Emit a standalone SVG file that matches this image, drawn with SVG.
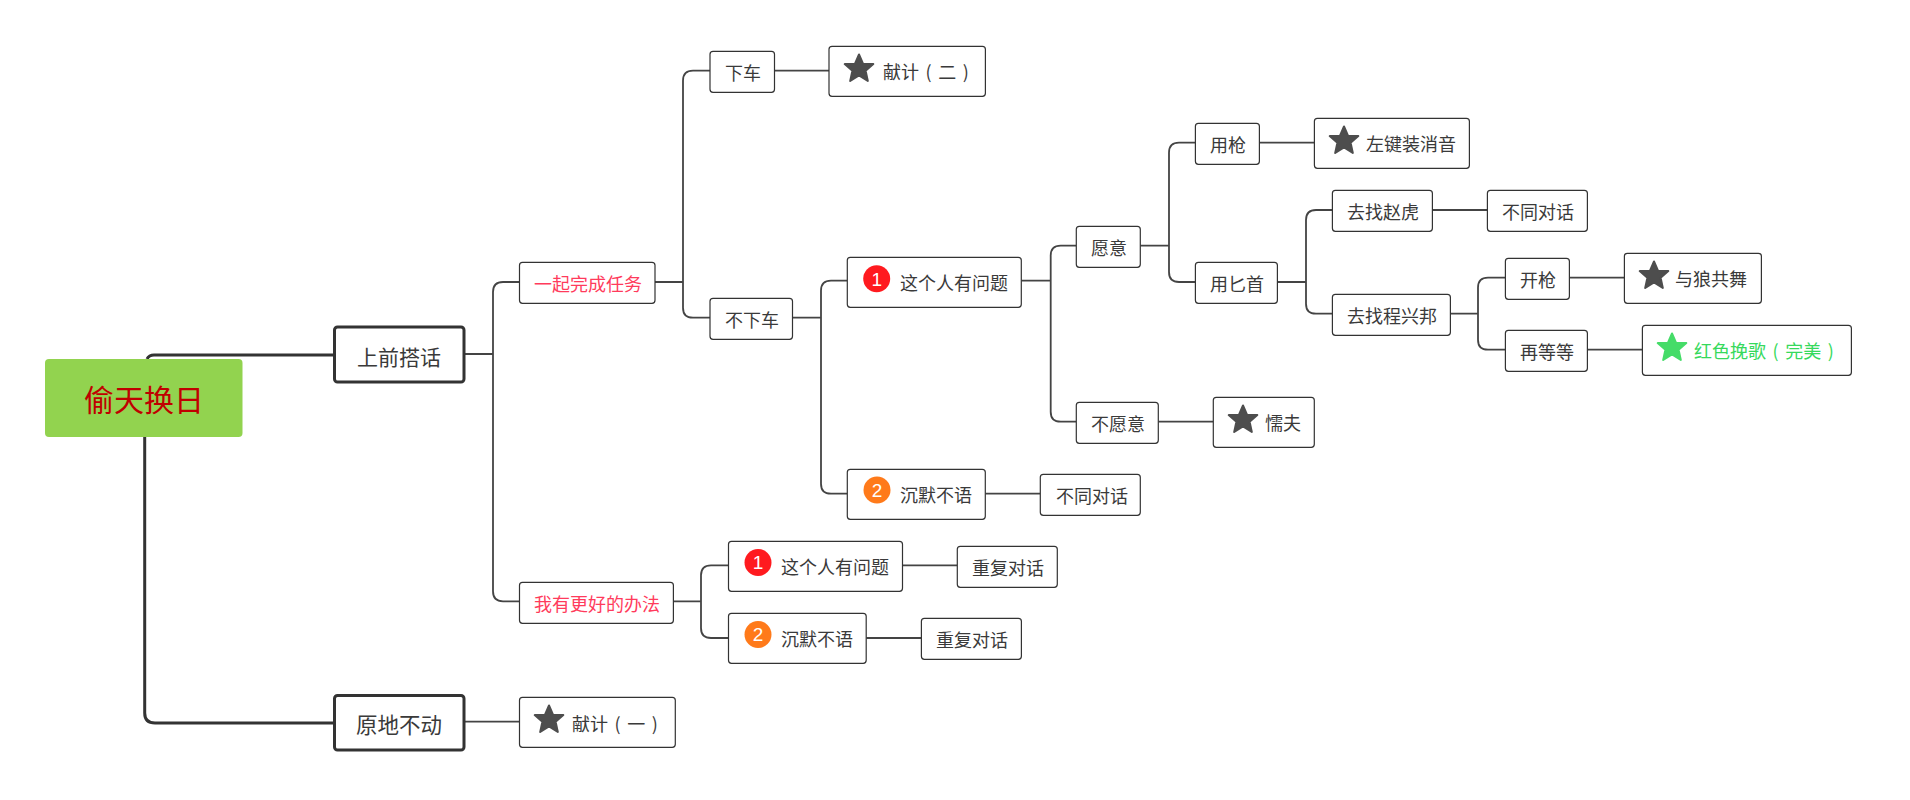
<svg xmlns="http://www.w3.org/2000/svg" xmlns:xlink="http://www.w3.org/1999/xlink" width="1910" height="800" viewBox="0 0 1910 800">
<style>
text{font-family:"Noto Sans CJK SC","Noto Sans",sans-serif;font-size:18px;fill:#3a3a3a;word-spacing:2.500px}
.b{fill:#fff;stroke:#333;stroke-width:1.2}
.m{fill:#fff;stroke:#333;stroke-width:3}
.c{fill:none;stroke:#444;stroke-width:1.8}
.c3{fill:none;stroke:#333;stroke-width:3}
.r{fill:#ff3b5c}
.g{fill:#36d95c}
.n{font-family:"Liberation Sans",sans-serif;fill:#fff;font-size:19px;text-anchor:middle}
.s{fill:#4d4d4d;stroke:#4d4d4d;stroke-width:2;stroke-linejoin:round}
</style>
<defs><polygon id="star" points="0,-14 4.1,-4.6 14.3,-4.4 6.6,2.2 8.8,12.4 0,7 -8.8,12.4 -6.6,2.2 -14.3,-4.4 -4.1,-4.6"/></defs>
<g id="connectors">
<path class="c3" d="M147 359Q149 355 154 355H334M144.700 437V713Q144.700 723 155 723H334"/>
<path class="c" d="M464.700 354H493M519.500 282H503Q493 282 493 292V591.300Q493 601.300 503 601.300H519.500"/>
<path class="c" d="M655 282H683M710 70.700H693Q683 70.700 683 80.700V307.700Q683 317.700 693 317.700H710M774.500 70.700H829"/>
<path class="c" d="M792.500 317.700H821M847.300 280.700H831Q821 280.700 821 290.700V483.700Q821 493.700 831 493.700H847.300M985.300 493.700H1040.300"/>
<path class="c" d="M1021.300 280.700H1050.700M1076.300 245.700H1060.700Q1050.700 245.700 1050.700 255.700V411.700Q1050.700 421.700 1060.700 421.700H1076.300M1158.300 421.700H1213.300"/>
<path class="c" d="M1140.300 245.700H1169M1195.400 142.700H1179Q1169 142.700 1169 152.700V272Q1169 282 1179 282H1195.400M1259.400 142.700H1314.400"/>
<path class="c" d="M1277.300 282H1306M1332.400 210H1316Q1306 210 1306 220V303.700Q1306 313.700 1316 313.700H1332.400M1432.300 210H1487.400"/>
<path class="c" d="M1450.300 313.700H1478M1505.400 277.700H1488Q1478 277.700 1478 287.700V339.700Q1478 349.700 1488 349.700H1505.400M1569.300 277.700H1624.400M1587.300 349.700H1642.400"/>
<path class="c" d="M673.400 601.300H701M728.500 565.300H711Q701 565.300 701 575.300V628Q701 638 711 638H728.500M902.600 565.300H957.300M866.200 638H921.400"/>
<path class="c" d="M464.700 721.700H519.500"/>
</g>
<g id="root"><rect x="45" y="359" width="197.500" height="78" rx="4" fill="#92d34f"/><text x="84" y="411" style="font-size:30px;fill:#c00000">偷天换日</text></g>
<g id="n1"><rect class="m" x="334.500" y="327" width="129.500" height="55" rx="3"/><text x="357" y="365" style="font-size:21px">上前搭话</text></g>
<g id="n2"><rect class="m" x="334.500" y="695.500" width="129.500" height="54.500" rx="3"/><text x="356" y="733" style="font-size:21.500px">原地不动</text></g>
<g id="n3"><rect class="b" x="519.500" y="262.300" width="135.500" height="41" rx="3"/><text class="r" x="534" y="291">一起完成任务</text></g>
<g id="n4"><rect class="b" x="519.500" y="582.300" width="153.900" height="41" rx="3"/><text class="r" x="534" y="611">我有更好的办法</text></g>
<g id="n5"><rect class="b" x="519.500" y="697.300" width="155.800" height="50" rx="3"/><use href="#star" class="s" x="549" y="719.500"/><text x="572" y="731">献计 ( 一 )</text></g>
<g id="n6"><rect class="b" x="710" y="51.300" width="64.500" height="41" rx="3"/><text x="725" y="80">下车</text></g>
<g id="n7"><rect class="b" x="829" y="46.300" width="156.400" height="50" rx="3"/><use href="#star" class="s" x="859" y="68.500"/><text x="883" y="79">献计 ( 二 )</text></g>
<g id="n8"><rect class="b" x="710" y="298.300" width="82.500" height="41" rx="3"/><text x="725" y="327">不下车</text></g>
<g id="n9"><rect class="b" x="847.300" y="257.300" width="174" height="50" rx="3"/><circle cx="876.700" cy="278.700" r="13.500" fill="#ff1a1f"/><text class="n" x="876.700" y="285.500">1</text><text x="900" y="290">这个人有问题</text></g>
<g id="n10"><rect class="b" x="847.300" y="469.300" width="138" height="50" rx="3"/><circle cx="877" cy="490" r="13.500" fill="#ff7a1a"/><text class="n" x="877" y="497">2</text><text x="900" y="502">沉默不语</text></g>
<g id="n11"><rect class="b" x="1040.300" y="474.300" width="100" height="41" rx="3"/><text x="1056" y="503">不同对话</text></g>
<g id="n12"><rect class="b" x="1076.300" y="226.300" width="64" height="41" rx="3"/><text x="1091" y="255">愿意</text></g>
<g id="n13"><rect class="b" x="1076.300" y="402.300" width="82" height="41" rx="3"/><text x="1091" y="431">不愿意</text></g>
<g id="n14"><rect class="b" x="1213.300" y="397.300" width="101" height="50" rx="3"/><use href="#star" class="s" x="1243" y="419.500"/><text x="1265" y="430">懦夫</text></g>
<g id="n15"><rect class="b" x="1195.400" y="123.300" width="64" height="41" rx="3"/><text x="1210" y="152">用枪</text></g>
<g id="n16"><rect class="b" x="1195.400" y="262.300" width="82" height="41" rx="3"/><text x="1210" y="291">用匕首</text></g>
<g id="n17"><rect class="b" x="1314.400" y="118.300" width="155" height="50" rx="3"/><use href="#star" class="s" x="1344" y="140.500"/><text x="1366" y="150.500">左键装消音</text></g>
<g id="n18"><rect class="b" x="1332.400" y="190.300" width="100" height="41" rx="3"/><text x="1347" y="219">去找赵虎</text></g>
<g id="n19"><rect class="b" x="1487.400" y="190.300" width="100" height="41" rx="3"/><text x="1502" y="219">不同对话</text></g>
<g id="n20"><rect class="b" x="1332.400" y="294.300" width="118" height="41" rx="3"/><text x="1347" y="323">去找程兴邦</text></g>
<g id="n21"><rect class="b" x="1505.400" y="258.300" width="64" height="41" rx="3"/><text x="1520" y="287">开枪</text></g>
<g id="n22"><rect class="b" x="1624.400" y="253.300" width="137" height="50" rx="3"/><use href="#star" class="s" x="1654" y="275.500"/><text x="1675" y="285.500">与狼共舞</text></g>
<g id="n23"><rect class="b" x="1505.400" y="330.300" width="82" height="41" rx="3"/><text x="1520" y="359">再等等</text></g>
<g id="n24"><rect class="b" x="1642.400" y="325.300" width="209" height="50" rx="3"/><use href="#star" x="1672" y="347.500" style="fill:#45dc68;stroke:#45dc68;stroke-width:2;stroke-linejoin:round"/><text class="g" x="1694" y="357.500">红色挽歌 ( 完美 )</text></g>
<g id="n25"><rect class="b" x="728.500" y="541.300" width="174" height="50" rx="3"/><circle cx="758" cy="562.500" r="13.500" fill="#ff1a1f"/><text class="n" x="758" y="569">1</text><text x="781" y="574">这个人有问题</text></g>
<g id="n26"><rect class="b" x="957.300" y="546.300" width="100" height="41" rx="3"/><text x="972" y="575">重复对话</text></g>
<g id="n27"><rect class="b" x="728.500" y="613.300" width="137.700" height="50" rx="3"/><circle cx="758" cy="634.500" r="13.500" fill="#ff7a1a"/><text class="n" x="758" y="641">2</text><text x="781" y="646">沉默不语</text></g>
<g id="n28"><rect class="b" x="921.400" y="618.300" width="100" height="41" rx="3"/><text x="936" y="647">重复对话</text></g>
</svg>
